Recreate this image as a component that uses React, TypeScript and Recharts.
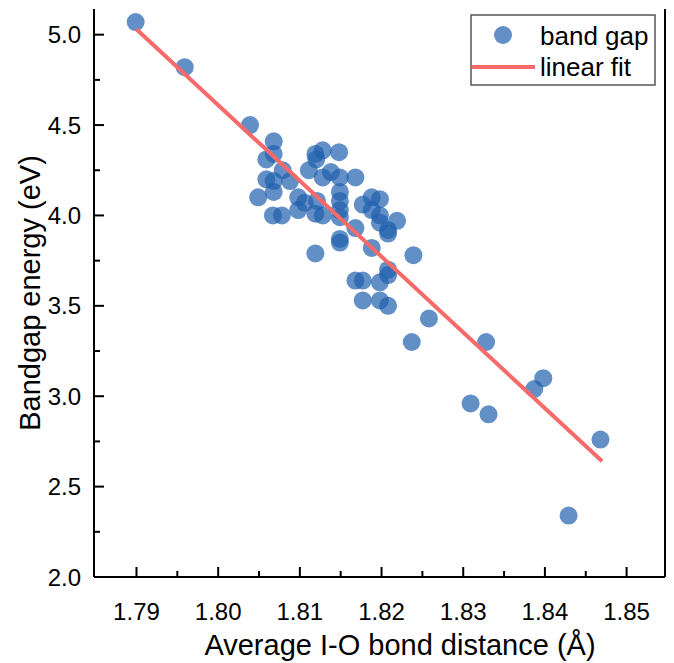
import React from 'react';
import { Scatter, ScatterChart, XAxis, YAxis } from 'recharts';

// Band gap vs average I-O bond distance.
const bondDistance = [
  1.7899, 1.7959, 1.8039, 1.8068, 1.8068, 1.8059, 1.8079, 1.8059, 1.8068, 1.8068,
  1.8049, 1.8088, 1.8111, 1.8119, 1.8128, 1.812, 1.8148, 1.8138, 1.8149, 1.8128,
  1.8168, 1.8098, 1.8106, 1.8121, 1.8098, 1.8119, 1.8128, 1.8149, 1.8149, 1.8149,
  1.8149, 1.8067, 1.8078, 1.8168, 1.8177, 1.8188, 1.8198, 1.8188, 1.8198, 1.8198,
  1.8208, 1.8208, 1.8219, 1.8149, 1.8149, 1.8119, 1.8188, 1.8208, 1.8208, 1.8239,
  1.8168, 1.8177, 1.8198, 1.8177, 1.8198, 1.8208, 1.8258, 1.8237, 1.8328, 1.8398,
  1.8387, 1.8309, 1.8331, 1.8468, 1.8429
];
const bandGap = [
  5.07, 4.82, 4.5, 4.41, 4.34, 4.31, 4.25, 4.2, 4.19, 4.13,
  4.1, 4.19, 4.25, 4.34, 4.36, 4.31, 4.35, 4.24, 4.21, 4.21,
  4.21, 4.1, 4.07, 4.08, 4.03, 4.01, 4.0, 4.13, 4.08, 4.03,
  3.99, 4.0, 4.0, 3.93, 4.06, 4.1, 4.09, 4.03, 4.0, 3.96,
  3.9, 3.92, 3.97, 3.87, 3.85, 3.79, 3.82, 3.7, 3.67, 3.78,
  3.64, 3.64, 3.63, 3.53, 3.53, 3.5, 3.43, 3.3, 3.3, 3.1,
  3.04, 2.96, 2.9, 2.76, 2.34
];

// Linear fit end points.
const fitX = [1.79, 1.847];
const fitY = [5.03, 2.64];

const xTicks = [1.79, 1.795, 1.8, 1.805, 1.81, 1.815, 1.82, 1.825, 1.83, 1.835, 1.84, 1.845, 1.85];
const xLabels = ['1.79', '', '1.80', '', '1.81', '', '1.82', '', '1.83', '', '1.84', '', '1.85'];
const yTicks = [2.0, 2.25, 2.5, 2.75, 3.0, 3.25, 3.5, 3.75, 4.0, 4.25, 4.5, 4.75, 5.0];
const yLabels = ['2.0', '', '2.5', '', '3.0', '', '3.5', '', '4.0', '', '4.5', '', '5.0'];

const points = bondDistance.map((x, i) => ({ x, y: bandGap[i] }));
const fitLine = fitX.map((x, i) => ({ x, y: fitY[i] }));

const FONT = '"Liberation Sans", Arial, sans-serif';
const DOT = '#1f5fae';
const FIT = '#f66a6a';

function XTick(props: any) {
  const { x, y, index } = props;
  const label = xLabels[index] ?? '';
  const major = label !== '';
  return (
    <g>
      <line x1={x} x2={x} y1={y} y2={y - (major ? 10 : 6)} stroke="#000" strokeWidth={2} />
      {major && (
        <text x={x} y={y + 34} textAnchor="middle" dominantBaseline="central" fontSize={24} fontFamily={FONT} fill="#000">
          {label}
        </text>
      )}
    </g>
  );
}

function YTick(props: any) {
  const { x, y, index } = props;
  const label = yLabels[index] ?? '';
  const major = label !== '';
  return (
    <g>
      <line x1={x} x2={x + (major ? 10 : 6)} y1={y} y2={y} stroke="#000" strokeWidth={2} />
      {major && (
        <text x={x - 13} y={y} textAnchor="end" dominantBaseline="central" fontSize={24} fontFamily={FONT} fill="#000">
          {label}
        </text>
      )}
    </g>
  );
}

function Dot(props: any) {
  const { cx, cy } = props;
  return <circle cx={cx} cy={cy} r={9} fill={DOT} fillOpacity={0.7} />;
}

export default function App() {
  return (
    <div style={{ position: 'absolute', left: 0, top: 0, width: 674, height: 663, background: '#fff' }}>
      <ScatterChart width={674} height={663} margin={{ top: 9, right: 0, bottom: 0, left: 0 }}>
        <XAxis
          type="number"
          dataKey="x"
          domain={[1.7848, 1.8547]}
          ticks={xTicks}
          interval={0}
          tickSize={0}
          tickMargin={0}
          tickLine={false}
          tick={<XTick />}
          axisLine={{ stroke: '#000', strokeWidth: 2 }}
          height={86}
          allowDataOverflow
        />
        <XAxis xAxisId="top" type="number" dataKey="x" orientation="top" domain={[1.7848, 1.8547]} height={0} tick={false} tickLine={false} axisLine={{ stroke: '#000', strokeWidth: 2 }} allowDataOverflow />
        <YAxis
          type="number"
          dataKey="y"
          domain={[2.0, 5.142]}
          ticks={yTicks}
          interval={0}
          tickSize={0}
          tickMargin={0}
          tickLine={false}
          tick={<YTick />}
          axisLine={{ stroke: '#000', strokeWidth: 2 }}
          width={94}
          allowDataOverflow
        />
        <YAxis yAxisId="right" type="number" dataKey="y" orientation="right" domain={[2.0, 5.142]} width={9} tick={false} tickLine={false} axisLine={{ stroke: '#000', strokeWidth: 2 }} allowDataOverflow />
        <text x={30} y={293} transform="rotate(-90 30 293)" textAnchor="middle" dominantBaseline="central" fontSize={29} fontFamily={FONT} fill="#000">
          Bandgap energy (eV)
        </text>
        <text x={400} y={645} textAnchor="middle" dominantBaseline="central" fontSize={29} fontFamily={FONT} fill="#000">
          Average I-O bond distance (Å)
        </text>
        <Scatter name="band gap" data={points} shape={<Dot />} isAnimationActive={false} />
        <Scatter
          name="linear fit"
          data={fitLine}
          line={{ stroke: FIT, strokeWidth: 4 }}
          shape={() => <g />}
          isAnimationActive={false}
        />
        <g>
          <rect x={471} y={15} width={184} height={70} fill="#fff" stroke="#555" strokeWidth={1.5} />
          <circle cx={503} cy={35} r={9} fill={DOT} fillOpacity={0.7} />
          <text x={540} y={36} dominantBaseline="central" fontSize={26} fontFamily={FONT} fill="#000">band gap</text>
          <line x1={472} x2={535} y1={67} y2={67} stroke={FIT} strokeWidth={4} />
          <text x={540} y={67} dominantBaseline="central" fontSize={26} fontFamily={FONT} fill="#000">linear fit</text>
        </g>
      </ScatterChart>
    </div>
  );
}
